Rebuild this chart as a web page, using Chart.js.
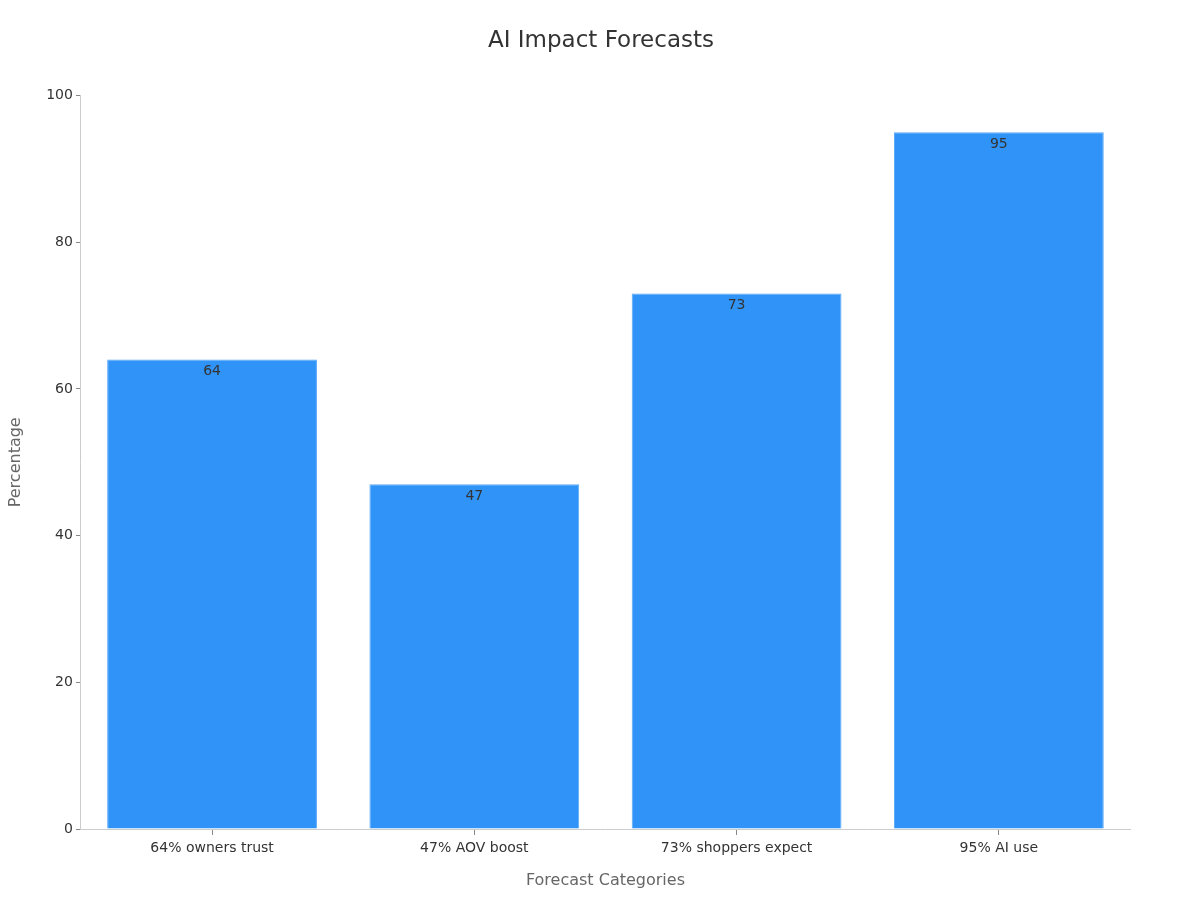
<!DOCTYPE html>
<html>
<head>
<meta charset="utf-8">
<script src="https://cdn.jsdelivr.net/npm/chart.js@4.4.0/dist/chart.umd.min.js"></script>
<style>
  html, body { margin: 0; padding: 0; background: #fff; }
  #wrap { width: 1200px; height: 900px; }
</style>
</head>
<body>
<div id="wrap"><canvas id="grafico" width="1200" height="900"></canvas></div>
<script>
const categorias = ["64% owners trust", "47% AOV boost", "73% shoppers expect", "95% AI use"];
const valores = [64, 47, 73, 95];
const yTicks = [0, 20, 40, 60, 80, 100];

// draws the value just inside the top of each bar
const rotulos = {
    id: 'rotulos',
    afterDatasetsDraw(chart) {
        const ctx = chart.ctx;
        const meta = chart.getDatasetMeta(0);
        ctx.save();
        ctx.font = '14px "DejaVu Sans"';
        ctx.fillStyle = '#333';
        ctx.textAlign = 'center';
        ctx.textBaseline = 'top';
        meta.data.forEach((bar, i) => {
            ctx.fillText(String(valores[i]), bar.x, bar.y + 5);
        });
        ctx.restore();
    }
};

Chart.defaults.font.family = '"DejaVu Sans", sans-serif';

const grafico = document.getElementById('grafico').getContext('2d');
const meugrafico = new Chart(grafico, {
    type: 'bar',
    data: {
        labels: categorias,
        datasets: [{
            label: 'Percentage',
            data: valores,
            backgroundColor: '#2f93f7',
            borderColor: '#5aa9f8',
            borderWidth: 1,
            barPercentage: 0.8,
            categoryPercentage: 1.0
        }]
    },
    options: {
        responsive: false,
        animation: false,
        layout: { padding: { left: 2, right: 0, top: 13, bottom: 6 } },
        plugins: {
            legend: { display: false },
            tooltip: { enabled: false },
            title: {
                display: true,
                text: 'AI Impact Forecasts',
                color: '#333',
                font: { size: 23, weight: 'normal' },
                padding: { top: 14, bottom: 41 }
            }
        },
        scales: {
            x: {
                grid: { display: true, offset: false, drawOnChartArea: false, drawTicks: true, tickLength: 6, tickColor: '#888' },
                border: { color: '#ccc' },
                ticks: { color: '#333', font: { size: 14 }, padding: 5 },
                title: {
                    display: true,
                    text: 'Forecast Categories',
                    color: '#666',
                    font: { size: 16 },
                    padding: { top: 9 }
                }
            },
            y: {
                min: 0,
                max: 100,
                afterBuildTicks(axis) {
                    axis.ticks = yTicks.map(v => ({ value: v }));
                },
                grid: { display: true, drawOnChartArea: false, drawTicks: true, tickLength: 5, tickColor: '#888' },
                border: { color: '#ccc' },
                ticks: { color: '#333', font: { size: 14 }, padding: 3 },
                title: {
                    display: true,
                    text: 'Percentage',
                    color: '#666',
                    font: { size: 16 },
                    padding: { bottom: 18 }
                }
            },
            // empty right axis, only keeps the plot clear of the right edge
            yRight: {
                position: 'right',
                display: true,
                grid: { display: false },
                border: { display: false },
                ticks: { display: false },
                afterFit(axis) { axis.width = 70; }
            }
        }
    },
    plugins: [rotulos]
});
</script>
</body>
</html>
